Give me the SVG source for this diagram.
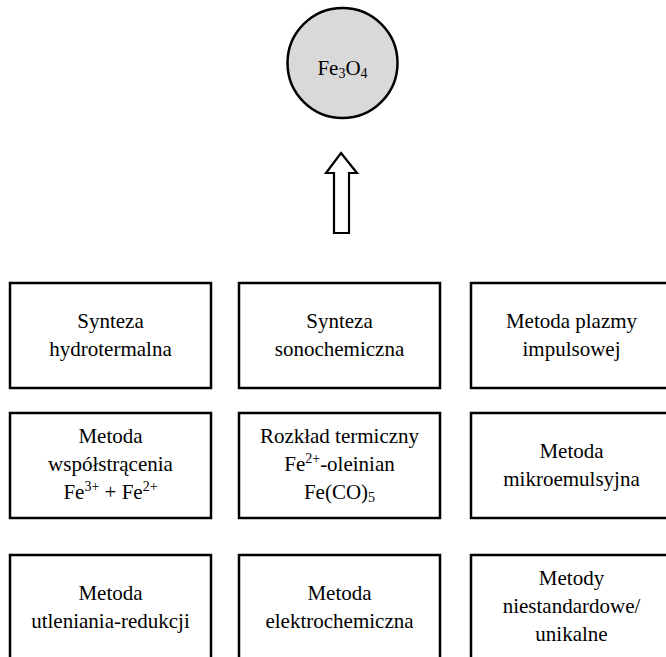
<svg xmlns="http://www.w3.org/2000/svg" width="666" height="657" viewBox="0 0 666 657">
<style>
.box{fill:#ffffff;stroke:#000000;stroke-width:2.5}
.circ{fill:#d9d9d9;stroke:#000000;stroke-width:2.5}
.arrow{fill:#ffffff;stroke:#000000;stroke-width:2.2;stroke-linejoin:miter}
.t{font-family:'Liberation Serif','Times New Roman','DejaVu Serif',serif;font-size:21px;fill:#000000;text-anchor:middle}
.sup{font-size:14px}
.sub{font-size:14px}
</style>
<rect width="666" height="657" fill="#ffffff"/>
<g id="connectors">
<polygon class="arrow" points="341,153 357,173 349,173 349,233 334,233 334,173 326,173"/>
</g>
<g id="fe3o4">
<circle class="circ" cx="342.5" cy="63" r="55"/>
<text class="t" font-family="Liberation Serif" x="342.5" y="75">Fe<tspan class="sub" dy="3">3</tspan><tspan dy="-3">O</tspan><tspan class="sub" dy="3">4</tspan></text>
</g>
<g id="hydrotermalna">
<rect class="box" x="10" y="283" width="201" height="105"/>
<text class="t" x="110.5" y="328">Synteza</text>
<text class="t" x="110.5" y="356">hydrotermalna</text>
</g>
<g id="sonochemiczna">
<rect class="box" x="239" y="283" width="201" height="105"/>
<text class="t" x="339.5" y="328">Synteza</text>
<text class="t" x="339.5" y="356">sonochemiczna</text>
</g>
<g id="plazma">
<rect class="box" x="471" y="283" width="201" height="105"/>
<text class="t" x="571.5" y="328">Metoda plazmy</text>
<text class="t" x="571.5" y="356">impulsowej</text>
</g>
<g id="wspolstracenie">
<rect class="box" x="10" y="413" width="201" height="105"/>
<text class="t" x="110.5" y="443">Metoda</text>
<text class="t" x="110.5" y="471">współstrącenia</text>
<text class="t" x="110.5" y="499">Fe<tspan class="sup" dy="-8">3+</tspan><tspan dy="8"> + Fe</tspan><tspan class="sup" dy="-8">2+</tspan></text>
</g>
<g id="rozklad">
<rect class="box" x="239" y="413" width="201" height="105"/>
<text class="t" x="339.5" y="443">Rozkład termiczny</text>
<text class="t" x="339.5" y="471">Fe<tspan class="sup" dy="-8">2+</tspan><tspan dy="8">-oleinian</tspan></text>
<text class="t" x="339.5" y="499">Fe(CO)<tspan class="sub" dy="3">5</tspan></text>
</g>
<g id="mikroemulsja">
<rect class="box" x="471" y="413" width="201" height="105"/>
<text class="t" x="571.5" y="458">Metoda</text>
<text class="t" x="571.5" y="486">mikroemulsyjna</text>
</g>
<g id="utlenianie">
<rect class="box" x="10" y="555" width="201" height="105"/>
<text class="t" x="110.5" y="600">Metoda</text>
<text class="t" x="110.5" y="628">utleniania-redukcji</text>
</g>
<g id="elektrochemiczna">
<rect class="box" x="239" y="555" width="201" height="105"/>
<text class="t" x="339.5" y="600">Metoda</text>
<text class="t" x="339.5" y="628">elektrochemiczna</text>
</g>
<g id="niestandardowe">
<rect class="box" x="471" y="555" width="201" height="105"/>
<text class="t" x="571.5" y="585">Metody</text>
<text class="t" x="571.5" y="613">niestandardowe/</text>
<text class="t" x="571.5" y="641">unikalne</text>
</g>
</svg>
